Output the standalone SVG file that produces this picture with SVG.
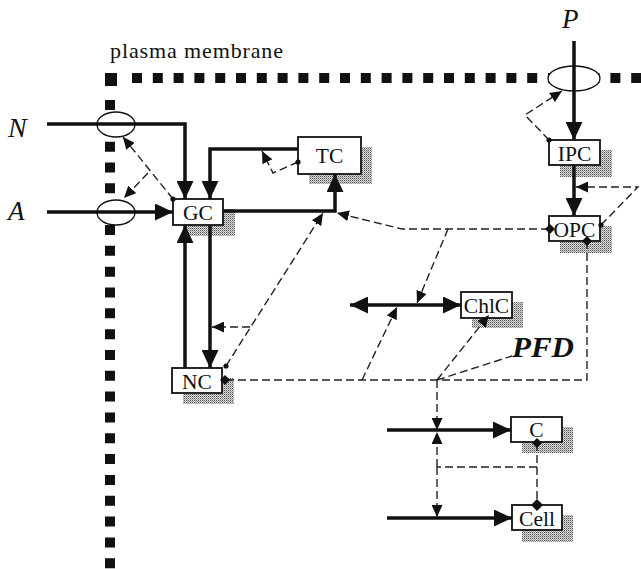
<svg xmlns="http://www.w3.org/2000/svg" width="641" height="569" viewBox="0 0 641 569">
<style>
.lbl{font-family:"Liberation Serif","Times New Roman",serif;fill:#111}
.box{fill:#fff;stroke:#111;stroke-width:1.8}
.shadow{fill:url(#stip)}
.node text{font-size:21.5px;text-anchor:middle}
.thick{fill:none;stroke:#111;stroke-width:3.5;marker-end:url(#ab)}
.dash{fill:none;stroke:#222;stroke-width:1.4;stroke-dasharray:8 4}
.da{marker-end:url(#as)}
.chan{fill:#fff;stroke:#111;stroke-width:1.3}
.mem{fill:none;stroke:#111;stroke-width:10}
</style>
<defs>
<pattern id="stip" width="2" height="2" patternUnits="userSpaceOnUse">
<rect width="2" height="2" fill="#dcdcdc"/>
<rect width="1" height="1" fill="#555"/>
<rect x="1" y="1" width="1" height="1" fill="#999"/>
</pattern>
<marker id="ab" markerUnits="userSpaceOnUse" markerWidth="19" markerHeight="17" refX="18" refY="8.5" orient="auto-start-reverse">
<path d="M0,0 L18,8.5 L0,17 z" fill="#111"/>
</marker>
<marker id="as" markerUnits="userSpaceOnUse" markerWidth="13" markerHeight="11" refX="12" refY="5.5" orient="auto">
<path d="M0,0 L12,5.5 L0,11 z" fill="#111"/>
</marker>
</defs>
<rect width="641" height="569" fill="#fff"/>

<g id="membrane">
<path class="mem" d="M110,100 V569" stroke-dasharray="10 10.83"/>
<path class="mem" d="M132,78 H641" stroke-dasharray="10 10.8"/>
<rect x="105" y="73" width="12" height="13" fill="#111"/>
<text class="lbl" x="110" y="58" font-size="22" textLength="173" lengthAdjust="spacing">plasma membrane</text>
</g>

<g id="channels">
<ellipse class="chan" cx="116" cy="124.5" rx="19" ry="12.5"/>
<ellipse class="chan" cx="116" cy="212.5" rx="19" ry="12.5"/>
<ellipse class="chan" cx="574" cy="78.5" rx="26" ry="12.5"/>
</g>

<g id="labels">
<text class="lbl" x="8" y="137" font-size="28" font-style="italic">N</text>
<text class="lbl" x="8" y="220" font-size="27" font-style="italic">A</text>
<text class="lbl" x="562" y="28" font-size="27" font-style="italic">P</text>
<text class="lbl" x="512" y="357" font-size="29" font-style="italic" font-weight="bold" textLength="62" lengthAdjust="spacingAndGlyphs">PFD</text>
</g>

<g id="node-GC" class="node">
<rect class="shadow" x="184" y="209" width="51" height="27"/>
<rect class="box" x="173" y="199" width="50" height="26"/>
<text class="lbl" x="198" y="220">GC</text>
</g>
<g id="node-TC" class="node">
<rect class="shadow" x="309" y="147" width="63" height="37"/>
<rect class="box" x="298" y="137" width="63" height="37"/>
<text class="lbl" x="329.5" y="163">TC</text>
</g>
<g id="node-IPC" class="node">
<rect class="shadow" x="560" y="150" width="52" height="27"/>
<rect class="box" x="549" y="140" width="51" height="25"/>
<text class="lbl" x="574.5" y="161">IPC</text>
</g>
<g id="node-OPC" class="node">
<rect class="shadow" x="560" y="226" width="52" height="27"/>
<rect class="box" x="549" y="216" width="51" height="25"/>
<text class="lbl" x="574.5" y="237">OPC</text>
</g>
<g id="node-ChlC" class="node">
<rect class="shadow" x="472" y="302" width="51" height="26"/>
<rect class="box" x="461" y="292" width="51" height="26"/>
<text class="lbl" x="486.5" y="313">ChlC</text>
</g>
<g id="node-NC" class="node">
<rect class="shadow" x="183" y="378" width="51" height="26"/>
<rect class="box" x="172" y="368" width="50" height="25"/>
<text class="lbl" x="197" y="389">NC</text>
</g>
<g id="node-C" class="node">
<rect class="shadow" x="522" y="427" width="51" height="26"/>
<rect class="box" x="511" y="417" width="51" height="25"/>
<text class="lbl" x="536.5" y="437">C</text>
</g>
<g id="node-Cell" class="node">
<rect class="shadow" x="522" y="515" width="51" height="27"/>
<rect class="box" x="512" y="505" width="50" height="25"/>
<text class="lbl" x="537" y="526">Cell</text>
</g>

<g id="connectors">
<path class="thick" d="M47,124 H185 V199"/>
<path class="thick" d="M47,212 H173"/>
<path class="thick" d="M298,149 H210 V199"/>
<path class="thick" d="M223,211 H335 V174"/>
<path class="thick" d="M185,368 V225"/>
<path class="thick" d="M210,225 V368"/>
<path class="thick" d="M574,41 V140"/>
<path class="thick" d="M574,165 V216"/>
<path class="thick" d="M350,305 H461" marker-start="url(#ab)"/>
<path class="thick" d="M387,430 H511"/>
<path class="thick" d="M387,518 H512"/>

<path class="dash da" d="M298,162 L273,173 L262,151"/>
<path class="dash da" d="M173,199 L123,137"/>
<path class="dash da" d="M148,173 L124,198"/>
<path class="dash da" d="M226,366 L323,213"/>
<path class="dash da" d="M250,327 H212"/>
<path class="dash da" d="M549,229 H402 L337,213"/>
<path class="dash da" d="M448,229 L417,303"/>
<path class="dash" d="M226,380 H587 V241"/>
<path class="dash da" d="M362,380 L397,307"/>
<path class="dash da" d="M437,380 L489,315"/>
<path class="dash" d="M437,380 L512,356"/>
<path class="dash da" d="M437,380 V430"/>
<path class="dash" d="M537,443 V505"/>
<path class="dash" d="M537,467 H437"/>
<path class="dash da" d="M437,467 V432"/>
<path class="dash da" d="M437,467 V517"/>
<path class="dash da" d="M549,140 L525,115 L562,91"/>
<path class="dash da" d="M601,225 L638,187 H576"/>

<g fill="#111">
<circle cx="298" cy="162" r="2.6"/>
<circle cx="173" cy="199" r="2.6"/>
<circle cx="226" cy="366" r="2.6"/>
<circle cx="549" cy="140" r="2.6"/>
<circle cx="601" cy="225" r="2.6"/>
<path d="M220,380 l5,-5 l5,5 l-5,5 z"/>
<path d="M545,229 l5,-5 l5,5 l-5,5 z"/>
<path d="M582,241 l5,-5 l5,5 l-5,5 z"/>
<path d="M532,443 l5,-5 l5,5 l-5,5 z"/>
<path d="M531,505 l6,-6 l6,6 l-6,6 z"/>
</g>
</g>
</svg>
